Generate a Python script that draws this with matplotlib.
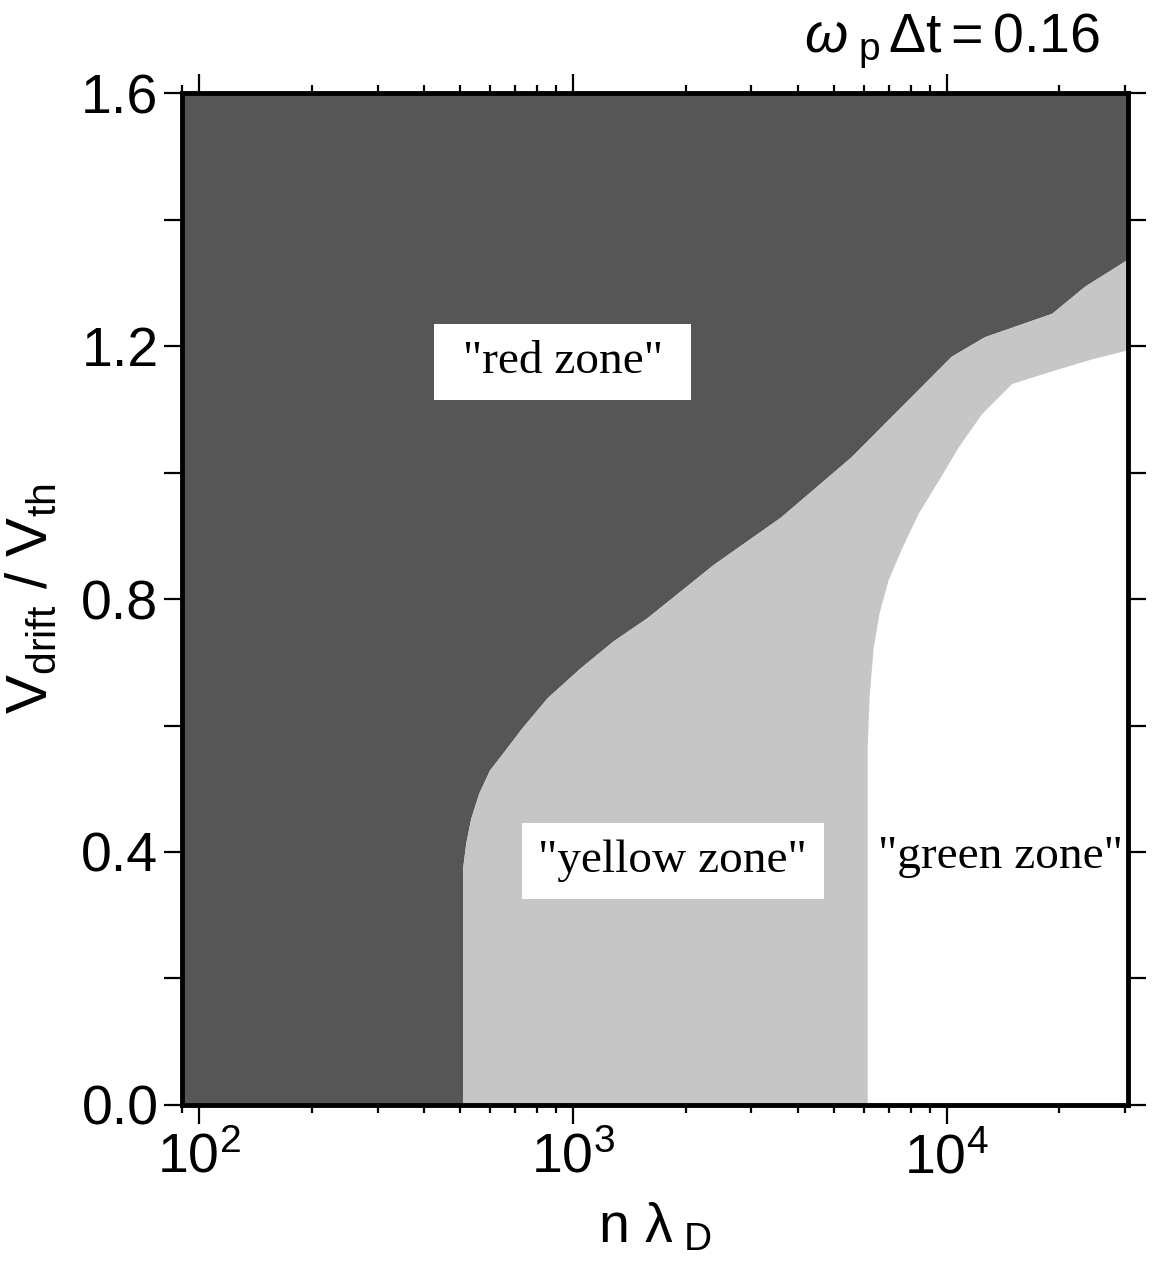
import numpy as np
import matplotlib
matplotlib.use("Agg")
import matplotlib.pyplot as plt
from matplotlib.ticker import LogLocator, LogFormatterMathtext, MultipleLocator, FormatStrFormatter

plt.rcParams['font.family'] = ['Liberation Sans', 'DejaVu Sans']
plt.rcParams['mathtext.fontset'] = 'custom'
plt.rcParams['mathtext.rm'] = 'Liberation Sans'
plt.rcParams['mathtext.it'] = 'Liberation Sans:italic'
plt.rcParams['mathtext.bf'] = 'Liberation Sans:bold'

# red / yellow boundary (n lambda_D, V_drift/V_th)
red_x = [508, 508, 518, 534, 561, 600, 659, 731, 855, 1047, 1284, 1585, 2382,
         3606, 5559, 10300, 12650, 19140, 23460, 31400]
red_v = [0.0, 0.373, 0.413, 0.452, 0.492, 0.529, 0.560, 0.595, 0.643, 0.690,
         0.733, 0.770, 0.854, 0.929, 1.024, 1.183, 1.214, 1.251, 1.294, 1.341]

# yellow / green boundary
green_x = [6140, 6140, 6210, 6370, 6610, 6980, 7570, 8410, 9520, 10770,
           12410, 14960, 19140, 24500, 31400]
green_v = [0.0, 0.563, 0.643, 0.722, 0.778, 0.829, 0.878, 0.935, 0.987, 1.040,
           1.092, 1.140, 1.160, 1.179, 1.195]

x_min, x_max = 90, 30500
v_min, v_max = 0.0, 1.6

zone_labels = [' "red zone" ', '"yellow zone"', '"green zone"']
zone_x = [937, 1849, 13870]
zone_v = [1.175, 0.386, 0.392]

fig = plt.figure(figsize=(11.64, 12.64), dpi=100)
ax = fig.add_axes([0.1564, 0.1258, 0.8126, 0.8006])

# red zone polygon
rx = [x_min] + red_x + [40000, 40000, x_min]
rv = [0.0] + red_v + [red_v[-1], 2.0, 2.0]
ax.fill(rx, rv, color='#565656', lw=0, zorder=1)

# yellow zone polygon
yx = red_x + [40000, 40000] + green_x[::-1]
yv = red_v + [red_v[-1], green_v[-1]] + green_v[::-1]
ax.fill(yx, yv, color='#c6c6c6', lw=0, zorder=1)

ax.set_xscale('log')
ax.set_xlim(x_min, x_max)
ax.set_ylim(v_min, v_max)

for s in ax.spines.values():
    s.set_linewidth(3.5)
    s.set_zorder(5)

ax.xaxis.set_major_locator(LogLocator(base=10))
ax.xaxis.set_minor_locator(LogLocator(base=10, subs=np.arange(2, 10)))
ax.xaxis.set_major_formatter(LogFormatterMathtext())
ax.xaxis.set_minor_formatter(plt.NullFormatter())
ax.yaxis.set_major_locator(MultipleLocator(0.4))
ax.yaxis.set_minor_locator(MultipleLocator(0.2))
ax.yaxis.set_major_formatter(FormatStrFormatter('%.1f'))

ax.tick_params(axis='both', which='both', direction='out',
               top=True, right=True, labelsize=40, width=1.6)
ax.tick_params(axis='x', which='major', length=14, pad=6)
ax.tick_params(axis='x', which='minor', length=6)
ax.tick_params(axis='y', which='both', length=13, pad=4)

ax.set_xlabel(r'n $\mathrm{\lambda}_{\ \mathrm{D}}$', fontsize=40, labelpad=12)
ax.set_ylabel(r'V$_{\mathrm{drift}}$ / V$_{\mathrm{th}}$', fontsize=42, labelpad=16)

box = dict(boxstyle='square,pad=0.35', fc='white', ec='none')
for i, (lab, xx, vv) in enumerate(zip(zone_labels, zone_x, zone_v)):
    ax.text(xx, vv, lab, fontsize=34, family='Liberation Serif',
            ha='center', va='center', zorder=4,
            bbox=box if i < 2 else None)

fig.text(0.945, 0.967, r'$\omega_{\ \mathrm{p}}\,\Delta \mathrm{t} = 0.16$',
         fontsize=40, ha='right', va='center')

fig.savefig('out.png', dpi=100)
